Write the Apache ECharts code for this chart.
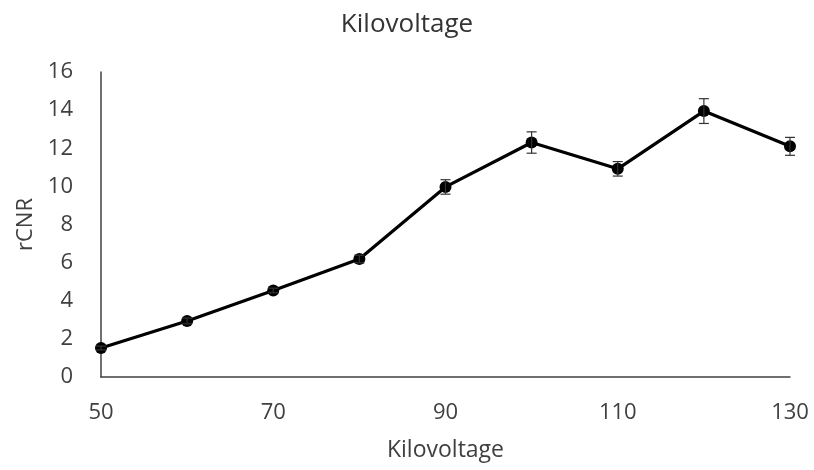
<!DOCTYPE html>
<html>
<head>
<meta charset="utf-8">
<script src="https://cdn.jsdelivr.net/npm/echarts@6/dist/echarts.min.js"></script>
<style>html,body{margin:0;padding:0;background:#fff;}#chart{width:814px;height:470px;}</style>
</head>
<body>
<div id="chart"></div>
<script>
var kv = [50, 60, 70, 80, 90, 100, 110, 120, 130];
var rcnr = [1.52, 2.94, 4.54, 6.19, 9.97, 12.3, 10.92, 13.95, 12.1];
var errors = [0.1, 0.15, 0.12, 0.2, 0.38, 0.56, 0.38, 0.65, 0.47];
var xTicks = [50, 70, 90, 110, 130];
var yTicks = [0, 2, 4, 6, 8, 10, 12, 14, 16];

var lineData = kv.map(function (k, i) { return [k, rcnr[i]]; });
var errData = kv.map(function (k, i) { return [k, rcnr[i] - errors[i], rcnr[i] + errors[i]]; });

var chart = echarts.init(document.getElementById('chart'));
var font = '"Open Sans", "Noto Sans", sans-serif';
chart.setOption({
  animation: false,
  backgroundColor: '#fff',
  title: {
    text: 'Kilovoltage', left: 'center', top: 7,
    textStyle: { fontFamily: font, fontSize: 26, fontWeight: 'normal', color: '#333' }
  },
  grid: { left: 101, right: 24, top: 72, bottom: 93 },
  xAxis: {
    type: 'value', min: xTicks[0], max: xTicks[xTicks.length - 1], interval: 20,
    name: 'Kilovoltage', nameLocation: 'middle', nameGap: 62,
    nameTextStyle: { fontFamily: font, fontSize: 23, color: '#404040' },
    axisLine: { show: true, lineStyle: { color: '#404040', width: 1.5 } },
    axisTick: { show: false },
    splitLine: { show: false },
    axisLabel: { margin: 25, fontFamily: font, fontSize: 22, color: '#404040' }
  },
  yAxis: {
    type: 'value', min: yTicks[0], max: yTicks[yTicks.length - 1], interval: 2,
    name: 'rCNR', nameLocation: 'middle', nameGap: 63,
    nameTextStyle: { fontFamily: font, fontSize: 22, color: '#404040' },
    axisLine: { show: true, lineStyle: { color: '#404040', width: 1.5 } },
    axisTick: { show: false },
    splitLine: { show: false },
    axisLabel: { margin: 28, fontFamily: font, fontSize: 22, color: '#404040' }
  },
  series: [
    {
      type: 'custom',
      data: errData,
      z: 3,
      renderItem: function (params, api) {
        var x = api.value(0);
        var lo = api.coord([x, api.value(1)]);
        var hi = api.coord([x, api.value(2)]);
        var w = 5;
        var st = { stroke: '#333', lineWidth: 1.2 };
        return {
          type: 'group',
          children: [
            { type: 'line', shape: { x1: lo[0], y1: lo[1], x2: hi[0], y2: hi[1] }, style: st },
            { type: 'line', shape: { x1: lo[0] - w, y1: lo[1], x2: lo[0] + w, y2: lo[1] }, style: st },
            { type: 'line', shape: { x1: hi[0] - w, y1: hi[1], x2: hi[0] + w, y2: hi[1] }, style: st }
          ]
        };
      }
    },
    {
      type: 'line',
      data: lineData,
      z: 2,
      symbol: 'circle',
      symbolSize: 12,
      lineStyle: { color: '#000', width: 3.2 },
      itemStyle: { color: '#000' }
    }
  ]
});
</script>
</body>
</html>
